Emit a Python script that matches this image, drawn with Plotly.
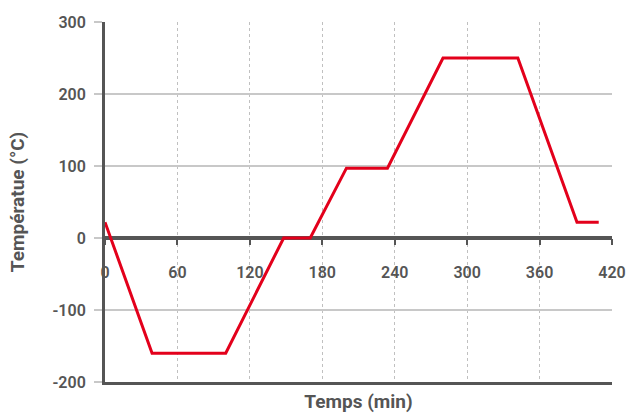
import plotly.graph_objects as go

# Data
time_min = [0, 39, 100, 148, 170, 200, 234, 280, 342, 391, 409]
temperature_c = [22, -160, -160, 0, 0, 97, 97, 250, 250, 22, 22]

x_ticks = [0, 60, 120, 180, 240, 300, 360, 420]
y_ticks = [-200, -100, 0, 100, 200, 300]
y_tick_labels = ["-200", "-100", "0", "100", "200", "300"]

DARK = "#555555"
GRID = "#c8c8c8"
FONT = "Roboto"

fig = go.Figure()
fig.add_trace(go.Scatter(
    x=time_min, y=temperature_c, mode="lines",
    line=dict(color="#e3001b", width=3),
    hoverinfo="x+y", showlegend=False,
))

fig.update_layout(
    width=627, height=414,
    margin=dict(l=105, r=15, t=22, b=32, autoexpand=False),
    paper_bgcolor="white", plot_bgcolor="white",
    font=dict(family=FONT, color=DARK),
    xaxis=dict(
        range=[0, 420], tickvals=x_ticks, showticklabels=False,
        showgrid=True, gridcolor="#c0c0c0", griddash="dot", gridwidth=1,
        zeroline=False, showline=True, linecolor=DARK, linewidth=3,
        ticks="", automargin=False,
        title=dict(text="Temps (min)", standoff=11,
                   font=dict(family=FONT, size=19, color=DARK, weight=700)),
    ),
    xaxis2=dict(
        range=[0, 420], tickvals=x_ticks, ticktext=[str(v) for v in x_ticks],
        overlaying="x", anchor="free", position=0.4, side="bottom",
        showgrid=False, zeroline=False, showline=False, automargin=False,
        ticks="outside", ticklen=6, tickwidth=2, tickcolor=DARK,
        ticklabelstandoff=14,
        tickfont=dict(family=FONT, size=16, color=DARK, weight=600),
    ),
    yaxis=dict(
        range=[-200, 300], tickvals=y_ticks, ticktext=y_tick_labels,
        domain=[0, 1], automargin=False,
        showgrid=True, gridcolor=GRID, gridwidth=1.5,
        zeroline=True, zerolinecolor=DARK, zerolinewidth=4,
        showline=True, linecolor=DARK, linewidth=3,
        ticks="outside", ticklen=8, tickcolor=GRID, tickwidth=1.5,
        ticklabelstandoff=5,
        tickfont=dict(family=FONT, size=16, color=DARK, weight=600),
        title=dict(text="Températue (°C)", standoff=23,
                   font=dict(family=FONT, size=19, color=DARK, weight=700)),
    ),
)

# invisible helper trace so xaxis2 is drawn
fig.add_trace(go.Scatter(x=[0, 420], y=[0, 0], xaxis="x2", yaxis="y",
                         mode="lines", line=dict(width=0), opacity=0,
                         hoverinfo="skip", showlegend=False))

fig.write_html("out.html", config={"displayModeBar": False},
               post_script="document.body.style.margin='0px';document.body.style.overflow='hidden';")
